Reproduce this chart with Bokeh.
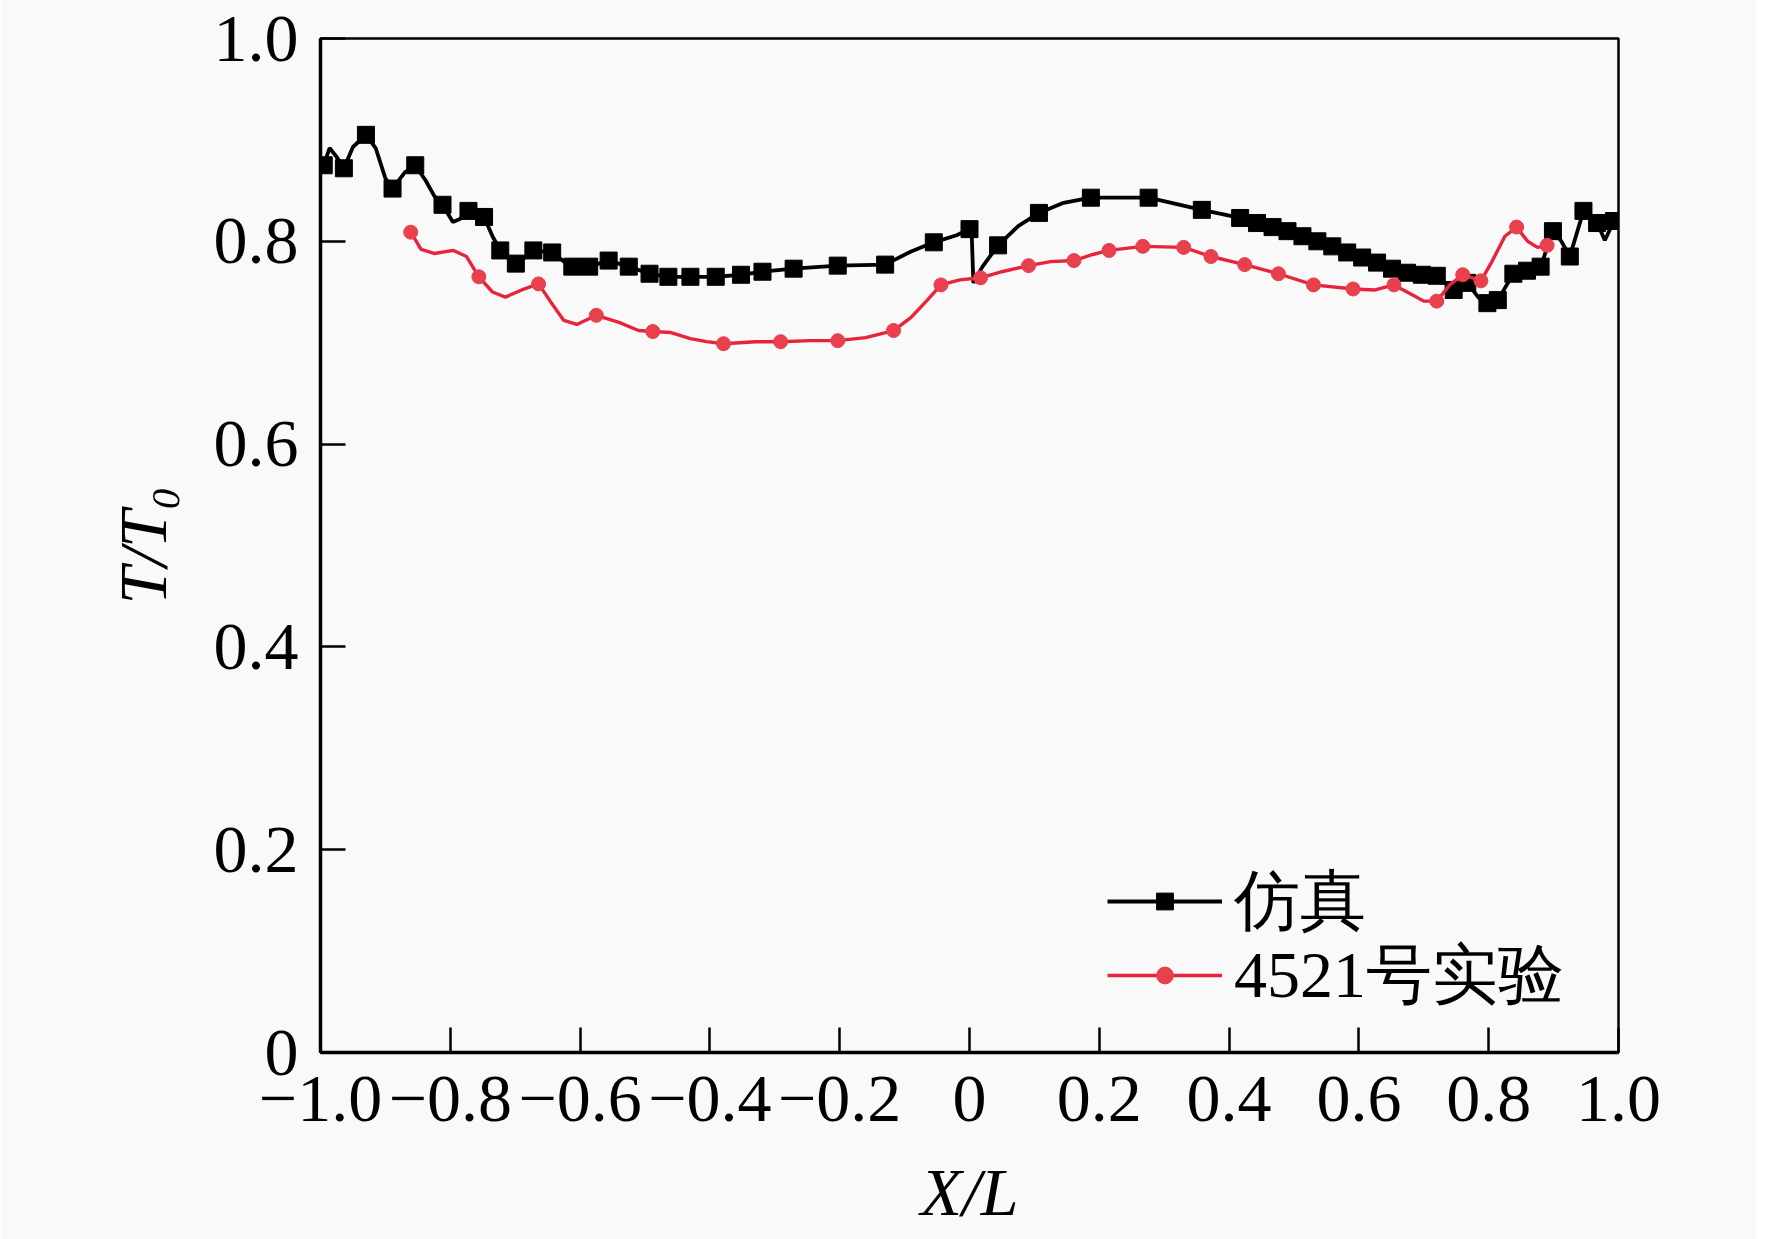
from bokeh.plotting import figure
from bokeh.models import Range1d, FixedTicker, Legend, LegendItem
from bokeh.embed import file_html
from bokeh.resources import INLINE

# ---- data ----
x_ticks = [-1.0, -0.8, -0.6, -0.4, -0.2, 0.0, 0.2, 0.4, 0.6, 0.8, 1.0]
x_tick_labels = ["\u22121.0", "\u22120.8", "\u22120.6", "\u22120.4", "\u22120.2", "0",
                 "0.2", "0.4", "0.6", "0.8", "1.0"]
y_ticks = [0.0, 0.2, 0.4, 0.6, 0.8, 1.0]
y_tick_labels = ["0", "0.2", "0.4", "0.6", "0.8", "1.0"]

x_title = "X/L"
y_title = "T/T\u2080"
series_names = ["仿真", "4521号实验"]

# simulation curve (line vertices)
sim_line_x = [-0.998, -0.995, -0.986, -0.976, -0.964, -0.950, -0.930, -0.915, -0.900, -0.889,
              -0.870, -0.854, -0.838, -0.825, -0.812, -0.796, -0.785, -0.772, -0.748, -0.735,
              -0.723, -0.699, -0.685, -0.672, -0.643, -0.625, -0.612, -0.586, -0.556, -0.525,
              -0.493, -0.464, -0.430, -0.391, -0.352, -0.319, -0.271, -0.203, -0.130, -0.090,
              -0.055, -0.020, 0.000, 0.003, 0.006, 0.020, 0.044, 0.075, 0.107, 0.145,
              0.187, 0.276, 0.358, 0.417, 0.443, 0.467, 0.490, 0.513, 0.536, 0.559,
              0.582, 0.605, 0.628, 0.651, 0.674, 0.697, 0.720, 0.746, 0.767, 0.785,
              0.798, 0.814, 0.838, 0.859, 0.880, 0.899, 0.912, 0.925, 0.946, 0.967,
              0.979, 0.993, 1.000]
sim_line_y = [0.872, 0.875, 0.892, 0.884, 0.872, 0.893, 0.905, 0.892, 0.862, 0.852,
              0.868, 0.875, 0.860, 0.845, 0.836, 0.819, 0.822, 0.830, 0.824, 0.805,
              0.791, 0.778, 0.784, 0.791, 0.789, 0.780, 0.775, 0.775, 0.781, 0.775,
              0.768, 0.765, 0.765, 0.765, 0.767, 0.770, 0.773, 0.776, 0.777, 0.790,
              0.799, 0.806, 0.812, 0.815, 0.759, 0.775, 0.796, 0.815, 0.828, 0.838,
              0.843, 0.843, 0.831, 0.823, 0.818, 0.814, 0.810, 0.805, 0.800, 0.795,
              0.789, 0.784, 0.779, 0.773, 0.769, 0.767, 0.766, 0.752, 0.759, 0.744,
              0.739, 0.742, 0.768, 0.771, 0.775, 0.810, 0.800, 0.785, 0.830, 0.818,
              0.801, 0.820, 0.815]

# simulation markers
sim_mark_x = [-0.995, -0.964, -0.930, -0.889, -0.854, -0.812, -0.772, -0.748, -0.723, -0.699,
              -0.672, -0.643, -0.612, -0.586, -0.556, -0.525, -0.493, -0.464, -0.430, -0.391,
              -0.352, -0.319, -0.271, -0.203, -0.130, -0.055, 0.000, 0.044, 0.107, 0.187,
              0.276, 0.358, 0.417, 0.443, 0.467, 0.490, 0.513, 0.536, 0.559, 0.582,
              0.605, 0.628, 0.651, 0.674, 0.697, 0.720, 0.746, 0.767, 0.798, 0.814,
              0.838, 0.859, 0.880, 0.899, 0.925, 0.946, 0.967, 0.993]
sim_mark_y = [0.875, 0.872, 0.905, 0.852, 0.875, 0.836, 0.830, 0.824, 0.791, 0.778,
              0.791, 0.789, 0.775, 0.775, 0.781, 0.775, 0.768, 0.765, 0.765, 0.765,
              0.767, 0.770, 0.773, 0.776, 0.777, 0.799, 0.812, 0.796, 0.828, 0.843,
              0.843, 0.831, 0.823, 0.818, 0.814, 0.810, 0.805, 0.800, 0.795, 0.789,
              0.784, 0.779, 0.773, 0.769, 0.767, 0.766, 0.752, 0.759, 0.739, 0.742,
              0.768, 0.771, 0.775, 0.810, 0.785, 0.830, 0.818, 0.820]

# experiment curve (line vertices)
exp_line_x = [-0.861, -0.845, -0.825, -0.795, -0.775, -0.756, -0.735, -0.715, -0.690, -0.664,
              -0.645, -0.625, -0.605, -0.575, -0.540, -0.510, -0.488, -0.460, -0.430, -0.405,
              -0.379, -0.330, -0.291, -0.245, -0.203, -0.160, -0.117, -0.090, -0.065, -0.044,
              -0.015, 0.017, 0.050, 0.091, 0.125, 0.161, 0.190, 0.215, 0.267, 0.330,
              0.372, 0.424, 0.476, 0.530, 0.591, 0.625, 0.654, 0.680, 0.700, 0.720,
              0.740, 0.760, 0.775, 0.788, 0.805, 0.825, 0.843, 0.860, 0.875, 0.890]
exp_line_y = [0.809, 0.792, 0.788, 0.791, 0.785, 0.765, 0.750, 0.745, 0.752, 0.758,
              0.740, 0.722, 0.718, 0.727, 0.720, 0.712, 0.711, 0.710, 0.704, 0.701,
              0.699, 0.701, 0.701, 0.702, 0.702, 0.705, 0.712, 0.725, 0.742, 0.757,
              0.762, 0.764, 0.770, 0.776, 0.780, 0.781, 0.787, 0.791, 0.795, 0.794,
              0.785, 0.777, 0.768, 0.757, 0.753, 0.752, 0.757, 0.748, 0.741, 0.741,
              0.757, 0.767, 0.764, 0.761, 0.780, 0.805, 0.814, 0.800, 0.794, 0.796]

# experiment markers
exp_mark_x = [-0.861, -0.756, -0.664, -0.575, -0.488, -0.379, -0.291, -0.203, -0.117, -0.044,
              0.017, 0.091, 0.161, 0.215, 0.267, 0.330, 0.372, 0.424, 0.476, 0.530,
              0.591, 0.654, 0.720, 0.760, 0.788, 0.843, 0.890]
exp_mark_y = [0.809, 0.765, 0.758, 0.727, 0.711, 0.699, 0.701, 0.702, 0.712, 0.757,
              0.764, 0.776, 0.781, 0.791, 0.795, 0.794, 0.785, 0.777, 0.768, 0.757,
              0.753, 0.757, 0.741, 0.767, 0.761, 0.814, 0.796]

# ---- figure ----
BG = "#f9f9f9"
SERIF = "Liberation Serif"
p = figure(width=1756, height=1239, x_range=Range1d(-1.0, 1.0), y_range=Range1d(0.0, 1.0),
           output_backend="svg", toolbar_location=None,
           min_border_left=320, min_border_right=138, min_border_top=38, min_border_bottom=187)
p.background_fill_color = BG
p.border_fill_color = BG
p.outline_line_color = "black"
p.outline_line_width = 2.5
p.grid.visible = False

for ax in (p.xaxis[0], p.yaxis[0]):
    ax.axis_line_width = 3.5
    ax.major_tick_line_width = 2.5
    ax.major_tick_in = 25
    ax.major_tick_out = 0
    ax.minor_tick_line_color = None
    ax.major_label_text_font = SERIF
    ax.major_label_text_font_size = "68px"
    ax.major_label_text_color = "black"
    ax.axis_label_text_font = SERIF
    ax.axis_label_text_font_style = "italic"
    ax.axis_label_text_font_size = "68px"
    ax.axis_label_text_color = "black"

p.xaxis[0].ticker = FixedTicker(ticks=x_ticks)
p.xaxis[0].major_label_overrides = {t: s for t, s in zip(x_ticks, x_tick_labels)}
p.xaxis[0].major_label_standoff = 24
p.xaxis[0].axis_label = x_title
p.xaxis[0].axis_label_standoff = 30

p.yaxis[0].ticker = FixedTicker(ticks=y_ticks)
p.yaxis[0].major_label_overrides = {t: s for t, s in zip(y_ticks, y_tick_labels)}
p.yaxis[0].major_label_standoff = 22
p.yaxis[0].axis_label = y_title
p.yaxis[0].axis_label_standoff = 30

BLACK = "black"
RED = "#e8243c"
sim_l = p.line(sim_line_x, sim_line_y, line_color=BLACK, line_width=3.8)
sim_m = p.scatter(sim_mark_x, sim_mark_y, marker="square", size=17, fill_color=BLACK, line_color=BLACK)
exp_l = p.line(exp_line_x, exp_line_y, line_color=RED, line_width=3.4)
exp_m = p.scatter(exp_mark_x, exp_mark_y, marker="circle", size=14, fill_color="#e8404c", line_color="#e8404c")

# legends (one per entry so rows can be placed exactly)
def make_legend(label, rends, loc):
    lg = Legend(items=[LegendItem(label=label, renderers=rends)], location=loc,
                glyph_width=115, glyph_height=42, label_standoff=12, padding=0, margin=0,
                border_line_color=None, background_fill_alpha=0.0,
                label_text_font=SERIF, label_text_font_size="66px", label_text_color="black")
    p.add_layout(lg)

make_legend(series_names[0], [sim_l, sim_m], (787, 106))
make_legend(series_names[1], [exp_l, exp_m], (787, 32))

open("out.html", "w").write(file_html(p, INLINE))
